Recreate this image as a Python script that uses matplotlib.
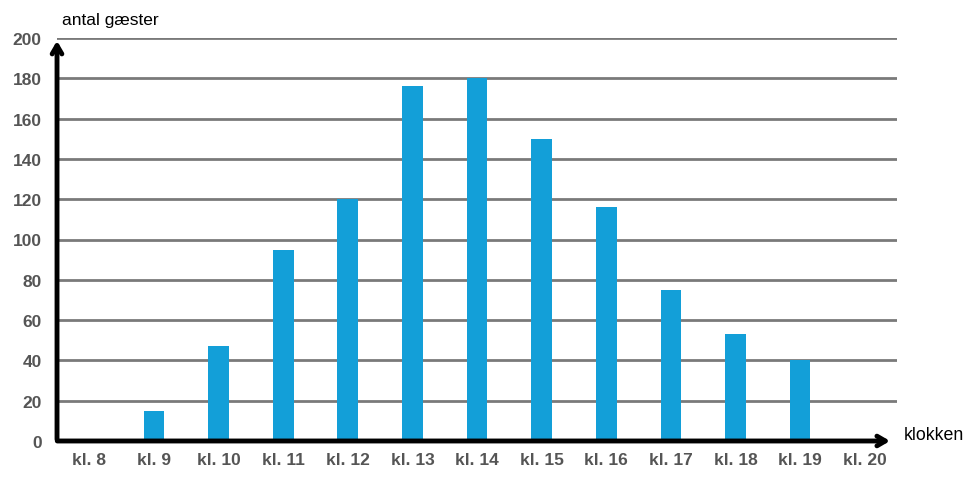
import matplotlib.pyplot as plt

plt.rcParams['font.family'] = ['Liberation Sans', 'DejaVu Sans']

# data
hours = ['kl. 8', 'kl. 9', 'kl. 10', 'kl. 11', 'kl. 12', 'kl. 13', 'kl. 14',
         'kl. 15', 'kl. 16', 'kl. 17', 'kl. 18', 'kl. 19', 'kl. 20']
guests = [0, 15, 47, 95, 120, 176, 180, 150, 116, 75, 53, 40, 0]
yticks = [0, 20, 40, 60, 80, 100, 120, 140, 160, 180, 200]

fig = plt.figure(figsize=(9.68, 4.81), dpi=100)
ax = fig.add_axes([0.0589, 0.0811, 0.8678, 0.8378])

x = range(len(hours))
ax.bar(x, guests, width=0.32, color='#139fd8', zorder=3)

ax.set_xlim(-0.5, len(hours) - 0.5)
ax.set_ylim(0, 200)

# gridlines
for v in yticks[1:]:
    ax.axhline(v, color='#7a7a7a', linewidth=2, zorder=1)

for s in ax.spines.values():
    s.set_visible(False)

ax.set_xticks(list(x))
ax.set_xticklabels(hours, fontsize=12.5, fontweight='bold', color='#555555')
ax.set_yticks(yticks)
ax.set_yticklabels([str(v) for v in yticks], fontsize=12.5, fontweight='bold', color='#555555')
ax.tick_params(axis='both', length=0)
ax.tick_params(axis='x', pad=8)
ax.tick_params(axis='y', pad=11)

# axis arrows
ax.annotate('', xy=(0.0, 1.0), xytext=(0.0, -0.003), xycoords='axes fraction',
            arrowprops=dict(arrowstyle='->,head_length=0.6,head_width=0.35', lw=3.5, color='black'),
            annotation_clip=False, zorder=5)
ax.annotate('', xy=(0.995, 0.0), xytext=(-0.003, 0.0), xycoords='axes fraction',
            arrowprops=dict(arrowstyle='->,head_length=0.6,head_width=0.35', lw=3.5, color='black'),
            annotation_clip=False, zorder=5)

fig.text(62 / 968, 1 - 21 / 481, 'antal gæster', fontsize=12.5, va='center', ha='left')
fig.text(904 / 968, 1 - 436 / 481, 'klokken', fontsize=12.8, va='center', ha='left')

plt.savefig('out.png', dpi=100)
